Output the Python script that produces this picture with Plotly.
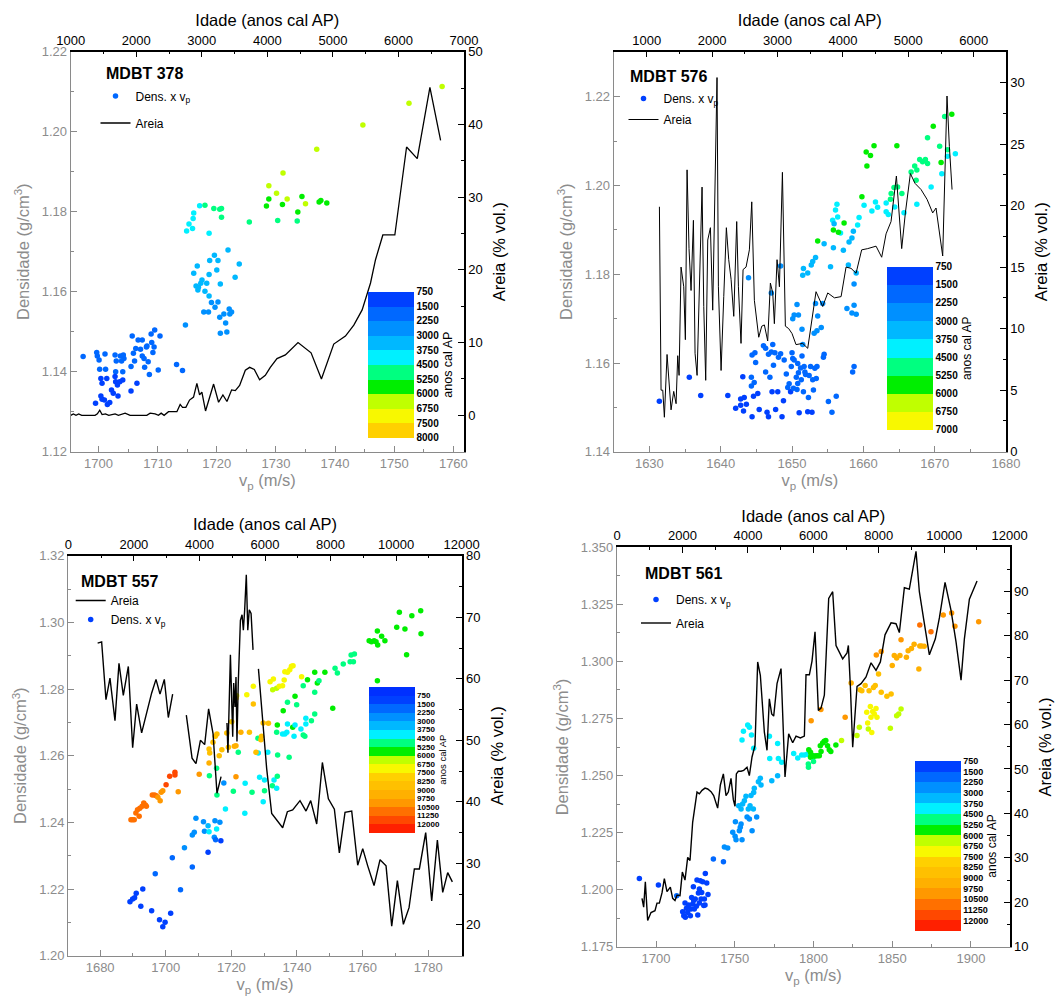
import numpy as np
import plotly.graph_objects as go

W, H = 1062, 998
FONT = 'Arial, "Liberation Sans", sans-serif'
TXT_GRAY = '#8c8c8c'
AX_GRAY = '#8a8a8a'

# ---------------- colour bands (lower bound of band -> colour) ----------------
BAND_COLORS = {0: '#0030ff', 750: '#0040ff', 1500: '#0068ff', 2250: '#0090ff', 3000: '#00b8ff',
               3750: '#00f0ff', 4500: '#00ff80', 5250: '#00ee00', 6000: '#c0ff00', 6750: '#f8f800',
               7500: '#ffd000', 8250: '#ffc000', 9000: '#ffb000', 9750: '#ff9800', 10500: '#ff7000',
               11250: '#ff4800', 12000: '#ff2000'}

# ======================= MDBT 378 =======================
p1_vp = [1697.4, 1699.7, 1699.8, 1700.1, 1700.2, 1700.4, 1700.6, 1700.4, 1700.6, 1699.5,
         1701.0, 1701.2, 1701.1, 1701.4, 1701.5, 1701.9, 1702.2, 1702.5, 1702.8, 1702.9,
         1702.8, 1702.9, 1703.2, 1703.3, 1703.0, 1703.7, 1703.6, 1703.9, 1704.1, 1704.2,
         1704.3, 1704.1, 1705.5, 1705.5, 1705.7, 1705.9, 1706.1, 1706.3, 1706.5, 1706.7,
         1707.1, 1707.4, 1707.4, 1707.7, 1707.8, 1708.1, 1708.4, 1708.6, 1708.2, 1708.9,
         1709.0, 1709.2, 1709.4, 1709.5, 1710.1, 1710.4, 1713.2, 1714.2, 1714.7,
         1714.9, 1715.3, 1715.9, 1716.0, 1716.1, 1717.1, 1718.0, 1718.7, 1716.1, 1716.7,
         1716.5, 1716.9, 1717.3, 1717.5, 1716.8, 1717.8, 1718.0, 1718.3, 1718.6, 1718.7,
         1718.7, 1719.1, 1718.8, 1719.6, 1719.7, 1720.0, 1720.2, 1720.2, 1720.5, 1720.6,
         1720.6, 1721.2, 1721.5, 1721.7, 1721.9, 1722.1, 1722.2, 1722.5, 1723.1, 1723.8,
         1719.5, 1720.5, 1720.8, 1720.8, 1725.5, 1728.4, 1728.8, 1728.8, 1730.1, 1730.3,
         1731.1, 1731.2, 1731.9, 1733.6, 1733.7, 1734.4, 1735.0, 1736.9, 1737.3, 1737.6,
         1738.6, 1744.7, 1752.5, 1758.1]
p1_dens = [1.1438, 1.1448, 1.1439, 1.1429, 1.1406, 1.1383, 1.1371, 1.1339, 1.1331, 1.1321,
           1.1329, 1.1406, 1.1444, 1.1383, 1.1318, 1.1323, 1.1354, 1.1346, 1.1442, 1.1400,
           1.1388, 1.1375, 1.1367, 1.1339, 1.1427, 1.1439, 1.1375, 1.1427, 1.1379, 1.1442,
           1.1433, 1.1400, 1.1413, 1.1352, 1.1489, 1.1446, 1.1427, 1.1458, 1.1371, 1.1479,
           1.1456, 1.1479, 1.1439, 1.1433, 1.1411, 1.1462, 1.1425, 1.1393, 1.1464, 1.1494,
           1.1473, 1.1448, 1.1462, 1.1504, 1.1404, 1.1489, 1.1418, 1.1403, 1.1517,
           1.1752, 1.1769, 1.1758, 1.1783, 1.1797, 1.1815, 1.1816, 1.1746, 1.1646, 1.1664,
           1.1614, 1.1611, 1.1621, 1.1629, 1.1604, 1.1549, 1.1601, 1.1621, 1.1549, 1.1643,
           1.1589, 1.1573, 1.1678, 1.1691, 1.1561, 1.1654, 1.1678, 1.1574, 1.1536, 1.1496,
           1.1619, 1.1544, 1.1522, 1.1499, 1.1704, 1.1557, 1.1544, 1.1549, 1.1636, 1.1669,
           1.1808, 1.1806, 1.1808, 1.1786, 1.1774, 1.1814, 1.1832, 1.1865, 1.1846, 1.1778,
           1.1818, 1.1897, 1.1832, 1.1777, 1.1799, 1.1838, 1.1820, 1.1956, 1.1824, 1.1828,
           1.1822, 1.2017, 1.2071, 1.2113]
p1_age = [2100, 1900, 1800, 1700, 1600, 1500, 1500, 1400, 1400, 1300,
          1300, 1600, 1800, 1500, 1200, 1300, 1400, 1400, 1800, 1600,
          1500, 1500, 1500, 1400, 1700, 1800, 1500, 1700, 1500, 1800,
          1700, 1600, 1600, 1400, 2000, 1800, 1700, 1900, 1500, 1900,
          1800, 1900, 1700, 1700, 1600, 1800, 1700, 1600, 1800, 2000,
          1900, 1800, 1800, 2000, 1600, 2000, 2200, 2200, 2500,
          3900, 3900, 3900, 4000, 4000, 4200, 4600, 3900, 3300, 3300,
          3200, 3200, 3200, 3300, 3200, 2900, 3200, 3300, 2900, 3300,
          3100, 3000, 3400, 3400, 3000, 3300, 3400, 3000, 2900, 2700,
          3200, 2900, 2800, 2700, 3500, 3000, 3000, 3000, 3600, 3600,
          4800, 4900, 4900, 4900, 5000, 5600, 5700, 6200, 6200, 5000,
          5600, 6300, 6200, 5100, 5600, 5700, 6200, 6300, 5700, 5700,
          5600, 6400, 6500, 6600]
p1_line_age = [1000, 1041, 1081, 1122, 1168, 1372, 1407, 1443, 1479, 1530,
               1581, 1677, 1728, 1830, 1906, 2161, 2212, 2288, 2339, 2380,
               2425, 2492, 2620, 2670, 2706, 2757, 2813, 2874, 2925, 2966,
               3001, 3057, 3180, 3256, 3322, 3384, 3455, 3511, 3577, 3664,
               3730, 3801, 3882, 3969, 4045, 4147, 4275, 4468, 4667, 4825,
               5013, 5191, 5319, 5446, 5574, 5650, 5762, 5945, 6124, 6287,
               6480, 6643]
p1_line_areia = [0, 0.2, 0, 0.2, 0, 0, 0.2, 0.7, 0.1, 0.2,
                 0, 0.2, 0, 0.3, 0, 0, 0.3, 0.2, 0, 0.3,
                 0, 0.5, 0.5, 1.5, 1.1, 1.1, 2.1, 2.5, 4.4, 2.8,
                 3.2, 0.6, 4.3, 1.8, 2.8, 1.9, 3.5, 3.4, 4.1, 6.2,
                 6.6, 6.3, 4.9, 5.5, 6.6, 7.8, 8.3, 10.0, 8.6, 5.0,
                 9.8, 10.9, 12.4, 14.5, 18.2, 21.4, 24.8, 24.8, 36.9, 35.3,
                 45.1, 37.8]
p1_cbar_bounds = [750, 1500, 2250, 3000, 3750, 4500, 5250, 6000, 6750, 7500, 8000]
p1_cbar_labels = [750, 1500, 2250, 3000, 3750, 4500, 5250, 6000, 6750, 7500, 8000]

# ======================= MDBT 576 =======================
p2_vp = [1631.4, 1635.6, 1637.2, 1641.0, 1642.1, 1642.8, 1642.8, 1643.1, 1643.2, 1643.3,
         1643.6, 1644.3, 1644.4, 1644.3, 1644.4, 1644.6, 1644.7, 1644.8, 1644.9, 1645.2,
         1645.4, 1646.0, 1646.3, 1646.3, 1646.5, 1646.7, 1646.7, 1646.9, 1647.1, 1647.2,
         1647.3, 1647.4, 1647.7, 1647.6, 1648.0, 1648.1, 1648.4, 1648.6, 1648.8, 1648.9,
         1649.2, 1649.4, 1649.6, 1649.8, 1649.9, 1650.0, 1650.1, 1650.2, 1650.3, 1650.6,
         1650.7, 1650.8, 1650.8, 1650.9, 1651.0, 1651.2, 1651.3, 1651.4, 1651.6, 1651.7,
         1651.8, 1651.9, 1652.2, 1652.3, 1652.4, 1652.6, 1652.8, 1652.9, 1653.0, 1653.2,
         1653.4, 1653.5, 1654.4, 1654.5, 1655.1, 1655.6, 1656.2, 1658.5, 1658.7,
         1643.9, 1647.1, 1648.4, 1650.1, 1650.3, 1650.7, 1650.9, 1651.4, 1651.5, 1651.6,
         1651.5, 1652.2, 1652.7, 1652.9, 1653.1, 1653.3, 1653.3, 1653.5, 1653.6, 1654.1,
         1654.3, 1654.5, 1655.4, 1655.8, 1655.7, 1656.1, 1656.3, 1656.4, 1655.9, 1656.8,
         1657.2, 1657.7, 1657.9, 1658.0, 1658.4, 1658.4, 1658.6, 1658.7, 1658.7, 1659.0,
         1659.0, 1659.2,
         1653.6, 1655.8, 1656.5, 1657.3, 1659.8, 1659.4, 1660.1, 1660.4, 1660.5, 1661.0,
         1661.5, 1661.2, 1661.7, 1662.0, 1663.2, 1663.2, 1663.5, 1663.8, 1663.9, 1664.3,
         1664.4, 1664.7, 1664.8, 1665.4, 1665.7, 1666.7, 1667.2, 1667.4, 1667.5, 1667.5,
         1667.9, 1668.3, 1668.7, 1669.0, 1669.0, 1669.5, 1669.8, 1670.7, 1670.9, 1671.0,
         1671.4, 1671.8, 1671.8, 1672.4, 1672.9]
p2_dens = [1.1514, 1.1568, 1.1527, 1.1527, 1.1498, 1.1519, 1.1505, 1.1569, 1.1492, 1.1522,
           1.1507, 1.1548, 1.1479, 1.1568, 1.1618, 1.1525, 1.1556, 1.1623, 1.1601, 1.1531,
           1.1495, 1.1639, 1.1633, 1.1580, 1.1489, 1.1479, 1.1620, 1.1568, 1.1625, 1.1535,
           1.1642, 1.1595, 1.1495, 1.1623, 1.1535, 1.1613, 1.1621, 1.1479, 1.1515, 1.1607,
           1.1575, 1.1545, 1.1553, 1.1535, 1.1592, 1.1623, 1.1610, 1.1543, 1.1607, 1.1568,
           1.1540, 1.1554, 1.1599, 1.1578, 1.1488, 1.1589, 1.1562, 1.1616, 1.1535, 1.1592,
           1.1580, 1.1574, 1.1490, 1.1522, 1.1572, 1.1592, 1.1489, 1.1562, 1.1539, 1.1588,
           1.1565, 1.1592, 1.1613, 1.1620, 1.1513, 1.1489, 1.1525, 1.1580, 1.1592,
           1.1792, 1.1758, 1.1819, 1.1700, 1.1708, 1.1732, 1.1708, 1.1676, 1.1642, 1.1813,
           1.1798, 1.1803, 1.1821, 1.1829, 1.1667, 1.1734, 1.1838, 1.1673, 1.1706, 1.1680,
           1.1734, 1.1869, 1.1817, 1.1860, 1.1922, 1.1945, 1.1958, 1.1929, 1.1914, 1.1893,
           1.1854, 1.1723, 1.1821, 1.1873, 1.1713, 1.1882, 1.1897, 1.1778, 1.1730, 1.1803,
           1.1710, 1.1911,
           1.1875, 1.1900, 1.1895, 1.1916, 1.1975, 1.1928, 1.1956, 1.2076, 1.2044, 1.2068,
           1.2090, 1.1943, 1.1963, 1.1951, 1.1961, 1.1941, 1.1935, 1.1969, 1.1982, 1.1996,
           1.1952, 1.2090, 1.1997, 1.1982, 1.1939, 1.2031, 1.2044, 1.2012, 1.2035, 1.1958,
           1.2059, 1.2054, 1.2059, 1.2050, 1.2108, 1.1997, 1.2134, 1.2089, 1.2052, 1.2027,
           1.2156, 1.2081, 1.2066, 1.2161, 1.2072]
p2_age = [1000, 1100, 1200, 1300, 1400, 1400, 1400, 1500, 1400, 1500,
          1500, 1600, 1400, 1600, 1700, 1500, 1600, 1700, 1700, 1500,
          1400, 1800, 1800, 1600, 1400, 1400, 1700, 1600, 1700, 1500,
          1800, 1700, 1400, 1700, 1500, 1700, 1700, 1400, 1500, 1700,
          1600, 1600, 1600, 1500, 1700, 1800, 1700, 1600, 1700, 1600,
          1600, 1600, 1700, 1700, 1500, 1700, 1600, 1800, 1600, 1700,
          1700, 1700, 1500, 1600, 1700, 1700, 1500, 1700, 1600, 1800,
          1700, 1800, 1900, 1900, 1700, 1600, 1800, 2000, 2000,
          2800, 2700, 2900, 2800, 2800, 2900, 2800, 2600, 2500, 3200,
          3100, 3200, 3300, 3300, 2700, 2900, 3400, 2700, 2800, 2700,
          2900, 3500, 3200, 3400, 3800, 3900, 3900, 3800, 3700, 3800,
          3300, 2900, 3200, 3500, 2900, 3600, 3600, 3000, 2900, 3100,
          2900, 3800,
          5600, 5600, 5600, 5600, 5600, 3900, 4000, 5700, 5700, 5700,
          5700, 4000, 4000, 4000, 4100, 4100, 4100, 4800, 4800, 4900,
          4200, 5700, 4900, 4900, 4200, 4900, 5000, 4900, 5000, 4200,
          5000, 5000, 5000, 5000, 5100, 4300, 5700, 5100, 5600, 4300,
          5100, 5100, 4300, 5700, 4300]
p2_line_age = [1194, 1219, 1245, 1270, 1311, 1372, 1413, 1449, 1474, 1495,
               1525, 1566, 1591, 1617, 1647, 1678, 1714, 1739, 1770, 1805,
               1846, 1872, 1902, 1933, 1974, 2009, 2075, 2096, 2137, 2178,
               2218, 2254, 2290, 2331, 2376, 2402, 2442, 2473, 2519, 2570,
               2606, 2646, 2713, 2759, 2799, 2850, 2891, 2927, 2952, 2993,
               3029, 3075, 3120, 3171, 3222, 3283, 3385, 3462, 3528, 3589,
               3691, 3768, 3870, 3972, 4048, 4124, 4201, 4287, 4379, 4507,
               4593, 4660, 4736, 4818, 4899, 4955, 5032, 5103, 5195, 5287,
               5373, 5424, 5526, 5592, 5628, 5669]
p2_line_areia = [19.9, 5.0, 5.0, 2.8, 7.9, 3.4, 4.9, 3.9, 7.8, 6.2,
                 15.0, 13.4, 9.1, 22.9, 16.5, 13.1, 18.8, 8.0, 6.2, 12.9,
                 21.5, 11.8, 5.8, 17.2, 18.2, 11.5, 30.4, 13.4, 6.6, 12.6,
                 18.2, 15.6, 14.0, 11.0, 18.7, 13.4, 8.8, 14.8, 15.0, 16.4,
                 20.3, 12.3, 9.3, 10.2, 10.3, 9.0, 13.7, 12.9, 10.4, 15.6,
                 13.4, 22.7, 10.2, 10.0, 9.6, 8.7, 8.8, 8.4, 11.0, 13.0,
                 11.8, 12.9, 12.5, 12.6, 15.0, 14.9, 14.5, 16.4, 16.5, 16.7,
                 15.8, 17.7, 18.7, 22.4, 16.5, 19.4, 22.6, 21.8, 21.3, 20.5,
                 19.4, 19.8, 15.9, 28.9, 24.8, 21.3]
p2_cbar_bounds = [750, 1500, 2250, 3000, 3750, 4500, 5250, 6000, 6750, 7000]
p2_cbar_labels = [750, 1500, 2250, 3000, 3750, 4500, 5250, 6000, 6750, 7000]

# ======================= MDBT 557 =======================
p3_vp = [1689.1, 1689.9, 1690.5, 1691.0, 1692.4, 1693.0, 1695.7, 1696.8, 1698.1, 1699.1,
         1699.8, 1701.5, 1702.0, 1704.5, 1705.7, 1708.1, 1708.1, 1709.2, 1708.7, 1711.5,
         1711.8, 1712.9, 1712.9, 1713.2, 1714.8, 1715.0, 1715.2, 1715.5, 1716.5, 1716.8,
         1713.3, 1715.5, 1715.6, 1717.7, 1718.2, 1720.6, 1722.1, 1724.2, 1724.1, 1726.3,
         1728.1, 1728.2, 1728.6, 1729.7, 1730.1, 1730.1, 1731.1, 1732.5, 1733.0, 1733.8,
         1734.0, 1734.1, 1733.8, 1734.0, 1735.6, 1736.3, 1736.9, 1737.1, 1737.6, 1735.8,
         1737.1, 1738.7, 1739.1, 1739.4, 1739.4, 1739.9, 1741.2, 1741.9, 1742.4, 1742.7,
         1742.7, 1741.9, 1743.2, 1744.4, 1745.4, 1745.4, 1745.4, 1746.2, 1746.7, 1748.5,
         1750.9, 1751.6, 1752.3, 1754.1, 1756.2, 1756.5, 1757.2, 1757.5, 1762.0, 1762.7,
         1763.5, 1764.1, 1764.6, 1764.5, 1764.5, 1765.8, 1766.8, 1770.4, 1771.2, 1772.9,
         1773.4, 1775.0, 1777.7, 1777.8,
         1721.6, 1724.7, 1726.7, 1731.8, 1732.8, 1732.6, 1733.8, 1734.6, 1735.6, 1736.1,
         1736.3, 1737.1, 1737.8, 1738.3, 1738.8, 1741.4,
         1726.7, 1729.7, 1731.3, 1729.2, 1729.0, 1727.5, 1725.5, 1722.9, 1720.1, 1721.4,
         1721.4, 1720.9, 1719.1, 1718.6, 1717.1, 1716.3, 1715.1, 1715.6, 1714.4, 1713.2,
         1713.4, 1713.2, 1710.2, 1721.4,
         1689.4, 1689.9, 1690.4, 1690.9, 1691.4, 1691.9, 1692.1, 1692.8, 1693.3, 1693.8,
         1694.1, 1695.9, 1696.6, 1697.1, 1697.6, 1698.3, 1698.6, 1699.1, 1700.1, 1701.2,
         1702.8, 1702.8, 1703.8]
p3_dens = [1.2162, 1.2170, 1.2174, 1.2187, 1.2148, 1.2200, 1.2135, 1.2246, 1.2108, 1.2087,
           1.2100, 1.2127, 1.2294, 1.2198, 1.2324, 1.2266, 1.2362, 1.2412, 1.2370, 1.2402,
           1.2373, 1.2390, 1.2310, 1.2372, 1.2355, 1.2405, 1.2348, 1.2380, 1.2400, 1.2345,
           1.2540, 1.2562, 1.2482, 1.2518, 1.2440, 1.2493, 1.2610, 1.2517, 1.2427, 1.2490,
           1.2652, 1.2608, 1.2535, 1.2462, 1.2527, 1.2495, 1.2610, 1.2510, 1.2527, 1.2502,
           1.2538, 1.2602, 1.2670, 1.2692, 1.2665, 1.2665, 1.2670, 1.2695, 1.2595, 1.2735,
           1.2760, 1.2685, 1.2658, 1.2692, 1.2778, 1.2753, 1.2680, 1.2662, 1.2658, 1.2695,
           1.2712, 1.2810, 1.2828, 1.2705, 1.2725, 1.2790, 1.2850, 1.2818, 1.2825, 1.2850,
           1.2742, 1.2862, 1.2848, 1.2875, 1.2882, 1.2902, 1.2882, 1.2905, 1.2945, 1.2942,
           1.2945, 1.2942, 1.2932, 1.2974, 1.2825, 1.2958, 1.2945, 1.2985, 1.3030, 1.2980,
           1.2903, 1.3020, 1.3035, 1.2966,
           1.2780, 1.2783, 1.2808, 1.2822, 1.2830, 1.2798, 1.2802, 1.2808, 1.2810, 1.2827,
           1.2852, 1.2850, 1.2858, 1.2868, 1.2870, 1.2837,
           1.2755, 1.2698, 1.2697, 1.2658, 1.2648, 1.2610, 1.2670, 1.2670, 1.2702, 1.2772,
           1.2630, 1.2628, 1.2625, 1.2668, 1.2618, 1.2600, 1.2658, 1.2665, 1.2640, 1.2620,
           1.2608, 1.2578, 1.2544, 1.2537,
           1.2408, 1.2408, 1.2408, 1.2428, 1.2438, 1.2418, 1.2442, 1.2448, 1.2458, 1.2452,
           1.2448, 1.2482, 1.2482, 1.2480, 1.2475, 1.2465, 1.2490, 1.2495, 1.2513, 1.2538,
           1.2542, 1.2550, 1.2492]
p3_age = [1200, 1200, 1200, 1300, 1100, 1300, 1100, 1900, 1000, 1000,
          1000, 1100, 2000, 1600, 2300, 1600, 2700, 2400, 2700, 2900,
          2900, 3300, 1400, 4000, 2400, 3000, 1800, 4000, 3000, 1500,
          4900, 4900, 4900, 2300, 4000, 4900, 4900, 4000, 4000, 4900,
          4900, 4000, 4000, 4000, 4000, 4900, 4000, 4900, 4000, 4000,
          4900, 4900, 4900, 5600, 4000, 4000, 4000, 4000, 4900, 5600,
          4900, 5600, 4000, 4000, 5600, 4900, 4000, 4900, 4900, 4000,
          4000, 4900, 5600, 4900, 4900, 4900, 5600, 5600, 4900, 5600,
          5600, 4900, 4900, 4900, 4900, 4900, 4900, 4900, 5600, 5600,
          5600, 5600, 5600, 5600, 5600, 5600, 5600, 5600, 5600, 5600,
          5600, 5600, 5600, 5600,
          7000, 7000, 7000, 7000, 7000, 6400, 6400, 7000, 7000, 7000,
          7000, 7000, 7000, 7000, 7000, 7000,
          8500, 8500, 8500, 8600, 8600, 9000, 9000, 9300, 8000, 7800,
          9300, 9300, 8800, 8600, 8600, 9000, 8600, 8600, 8600, 8300,
          8300, 9600, 9800, 9800,
          10800, 10800, 10800, 10800, 10800, 10800, 10800, 10800, 10800, 10800,
          10800, 10800, 10800, 10600, 10000, 10000, 10000, 10000, 11400, 11400,
          11600, 11600, 9900]
p3_line_age = [895, 1017, 1149, 1271, 1424, 1546, 1678, 1831, 1963, 2085,
               2237, 2390, 2543, 2675, 2797, 2929, 3051, 3183, None,
               3600, 3775, 3895, 4030, 4160, 4280, 4415, 4535, 4660, None,
               4840, 4870, 4945, 5015, 5045, 5085, 5115, 5145, 5185, 5250,
               5300, 5340, 5380, 5430, 5475, 5520, 5575, 5635, None,
               5800, 5899, 6051, 6204, 6356, 6539, 6682, 6844, 7068, 7251,
               7394, 7577, 7750, 7933, 8116, 8268, 8441, 8645, 8828, 8981,
               9133, 9326, 9509, 9692, 9865, 10038, 10221, 10394, 10556, 10709,
               10902, 11085, 11258, 11421, 11573, 11715]
p3_line_areia = [65.8, 66.0, 56.6, 60.1, 53.2, 62.5, 57.3, 62.0, 48.8, 55.9,
                 51.2, 54.5, 57.7, 59.9, 57.5, 59.9, 53.7, 57.5, None,
                 54.1, 47.1, 46.2, 50.0, 49.3, 55.1, 51.1, 41.4, 44.1, None,
                 52.8, 48.0, 63.9, 50.6, 59.3, 55.4, 60.3, 49.8, 59.3, 69.5,
                 70.4, 67.9, 71.2, 76.9, 67.9, 71.2, 70.6, 64.7, None,
                 61.6, 55.7, 45.4, 38.1, 37.0, 35.8, 38.4, 38.7, 40.2, 38.5,
                 40.2, 36.4, 46.4, 40.5, 38.8, 31.7, 38.3, 38.5, 29.7, 32.4,
                 29.6, 26.4, 30.6, 29.6, 19.8, 27.2, 20.1, 22.8, 29.1, 29.1,
                 35.0, 23.9, 33.8, 25.3, 28.5, 27.0]
p3_cbar_bounds = [0, 750, 1500, 2250, 3000, 3750, 4500, 5250, 6000, 6750, 7500, 8250,
                  9000, 9750, 10500, 11250, 12000, 12750]
p3_cbar_labels = [750, 1500, 2250, 3000, 3750, 4500, 5250, 6000, 6750, 7500, 8250,
                  9000, 9750, 10500, 11250, 12000]

# ======================= MDBT 561 =======================
p4_vp = [1689.4, 1701.5, 1713.1, 1716.9, 1717.6, 1718.4, 1718.6, 1719.3, 1720.1, 1720.7,
         1721.8, 1722.2, 1722.6, 1723.3, 1723.7, 1723.9, 1724.3, 1724.9, 1725.6, 1726.0,
         1726.5, 1726.9, 1727.5, 1727.5, 1728.1, 1728.6, 1729.0, 1729.6, 1730.3, 1730.7,
         1731.1, 1731.3, 1732.2, 1733.0,
         1736.4, 1742.8, 1743.4, 1745.5, 1748.7, 1750.4, 1750.2, 1750.8, 1752.9, 1753.5,
         1754.0, 1754.6, 1752.5, 1754.0, 1755.0, 1756.1, 1757.1, 1757.8, 1758.6, 1759.3,
         1759.7, 1760.3, 1761.0, 1761.8, 1762.0, 1762.4, 1763.9, 1765.0, 1766.2, 1766.7,
         1754.6, 1755.5, 1758.2, 1759.3, 1760.6, 1762.0, 1772.0, 1772.2, 1773.5, 1777.2,
         1777.7, 1777.2, 1779.8, 1787.4, 1790.0, 1792.5, 1794.2, 1796.0,
         1797.0, 1798.1, 1798.1, 1798.5, 1799.6, 1800.0, 1796.7, 1796.8, 1800.5, 1801.6,
         1802.6, 1803.7, 1804.3, 1804.8, 1805.8, 1806.8, 1807.8, 1808.9, 1810.0, 1811.0,
         1814.2, 1817.8,
         1827.6, 1829.1, 1833.8, 1834.4, 1834.8, 1836.1, 1836.5, 1837.0, 1837.6, 1838.6,
         1839.7, 1840.3, 1848.8, 1852.8, 1854.1, 1855.6,
         1798.5, 1804.7, 1820.1, 1823.9, 1829.6, 1830.7, 1832.8, 1835.3, 1838.1, 1839.2,
         1841.3, 1843.0, 1846.6, 1849.3, 1839.9, 1843.0, 1850.0, 1851.3, 1852.8, 1855.6,
         1854.9, 1859.0, 1860.1, 1862.2, 1863.9, 1866.9, 1867.5, 1867.5, 1868.6, 1870.3,
         1874.6, 1882.4, 1887.7, 1889.8, 1904.9]
p4_dens = [1.2049, 1.2020, 1.1973, 1.1903, 1.1886, 1.1941, 1.1879, 1.1918, 1.1900, 1.1933,
           1.1886, 1.1915, 1.1966, 1.1937, 1.2013, 1.1952, 1.1915, 1.1959, 1.1927, 1.2042,
           1.1889, 1.1985, 1.2003, 1.1941, 1.2039, 1.1959, 1.1988, 1.2035, 1.1930, 1.1959,
           1.1933, 1.2071, 1.2029, 1.1979,
           1.2134, 1.2122, 1.2187, 1.2182, 1.2251, 1.2298, 1.2234, 1.2219, 1.2258, 1.2273,
           1.2288, 1.2219, 1.2368, 1.2353, 1.2375, 1.2390, 1.2409, 1.2318, 1.2353, 1.2310,
           1.2368, 1.2412, 1.2258, 1.2353, 1.2426, 1.2444, 1.2318, 1.2473, 1.2488, 1.2459,
           1.2656, 1.2694, 1.2721, 1.2711, 1.2678, 1.2619, 1.2672, 1.2575, 1.2477, 1.2640,
           1.2575, 1.2499, 1.2558, 1.2597, 1.2577, 1.2590, 1.2590, 1.2593,
           1.2613, 1.2580, 1.2602, 1.2590, 1.2587, 1.2561, 1.2550, 1.2536, 1.2584, 1.2587,
           1.2587, 1.2587, 1.2631, 1.2605, 1.2643, 1.2650, 1.2653, 1.2631, 1.2613, 1.2605,
           1.2634, 1.2653,
           1.2675, 1.2711, 1.2777, 1.2730, 1.2704, 1.2803, 1.2755, 1.2689, 1.2780, 1.2770,
           1.2794, 1.2755, 1.2707, 1.2762, 1.2770, 1.2792,
           1.2740, 1.2789, 1.2755, 1.2905, 1.2876, 1.2872, 1.2894, 1.2872, 1.2886, 1.2894,
           1.2945, 1.2865, 1.2847, 1.2857, 1.3028, 1.3043, 1.2982, 1.3026, 1.3015, 1.3095,
           1.3026, 1.3018, 1.3047, 1.3057, 1.3075, 1.2967, 1.3160, 1.3068, 1.3068, 1.3066,
           1.3130, 1.3203, 1.3212, 1.3154, 1.3174]
p4_age = [1200, 1500, 2000, 1000, 1000, 1100, 1000, 1100, 1000, 1100,
          1000, 1100, 1200, 1100, 1300, 1200, 1100, 1200, 1100, 1300,
          1000, 1200, 1300, 1100, 1300, 1200, 1200, 1300, 1100, 1200,
          1100, 1400, 1300, 1200,
          2100, 2200, 2300, 2300, 2500, 2600, 2500, 2400, 2600, 2600,
          2700, 2500, 3200, 3200, 3300, 3300, 3400, 2800, 3100, 2800,
          3200, 3400, 2700, 3100, 3400, 3500, 2800, 3500, 3600, 3500,
          4000, 4000, 4100, 4100, 4000, 3900, 4100, 4000, 3600, 4100,
          4000, 3700, 4000, 4100, 4100, 4200, 4200, 4300,
          5500, 5500, 5500, 5500, 5500, 4900, 4900, 4900, 5600, 5600,
          5600, 5600, 5600, 5600, 5600, 5600, 5700, 5700, 5700, 5700,
          5800, 6200,
          6300, 6400, 7000, 7000, 6500, 7100, 7100, 7000, 7100, 7100,
          7200, 7100, 6500, 6500, 6500, 6600,
          9800, 9800, 9800, 9200, 8400, 8400, 8400, 8400, 8500, 8500,
          8600, 8600, 8700, 8700, 10200, 9900, 9300, 9300, 9400, 10000,
          9400, 9400, 9500, 9500, 9600, 9600, 10800, 9700, 9700, 9700,
          10800, 10000, 10000, 10000, 10000]
p4_line_age = [764, 815, 866, 937, 1039, 1161, 1222, 1294, 1375, 1447,
               1528, 1630, 1701, 1772, 1834, 1925, 1997, 2078, 2160, 2231,
               2312, 2384, 2445, 2516, 2598, 2689, 2771, 2873, 2954, 3076,
               3158, 3250, 3331, 3402, 3484, 3555, 3606, 3647, 3708, 3790,
               3871, 3973, 4044, 4126, 4217, 4299, 4380, 4503, 4584, 4655,
               4727, 4788, 4890, 5012, 5134, 5246, 5369, 5471, 5603, 5725,
               5776, 5878, 5959, 6051, 6153, 6234, 6336, 6469, 6591, 6693,
               6764, 6897, 7029, 7070, 7131, 7202, 7335, 7457, 7610, 7763,
               7915, 8048, 8190, 8374, 8526, 8628, 8781, 8933, 9137, 9239,
               9372, 9545, 9728, 9851, 10024, 10207, 10360, 10513, 10615, 10768,
               11002]
p4_line_areia = [20.9, 18.9, 24.6, 15.9, 17.7, 18.1, 19.8, 19.8, 22.1, 25.3,
                 22.4, 23.4, 20.9, 20.4, 21.6, 21.5, 26.8, 25.0, 30.1, 29.4,
                 38.0, 42.4, 44.8, 44.4, 45.2, 45.7, 45.5, 44.9, 44.0, 41.2,
                 46.4, 48.9, 44.0, 44.8, 47.9, 43.1, 41.6, 48.9, 49.5, 49.5,
                 49.7, 50.4, 48.5, 52.7, 55.3, 74.1, 71.1, 58.3, 54.2, 65.8,
                 62.4, 61.9, 69.2, 72.6, 48.2, 57.9, 55.9, 57.4, 57.0, 57.4,
                 71.2, 71.2, 74.3, 80.9, 63.2, 63.7, 66.6, 88.4, 89.9, 77.8,
                 76.7, 74.8, 76.1, 77.8, 68.7, 54.9, 68.6, 69.2, 70.7, 73.9,
                 72.2, 74.1, 80.2, 82.9, 82.7, 80.7, 90.8, 90.5, 99.0, 89.9,
                 83.7, 75.7, 79.3, 84.0, 92.0, 85.7, 78.6, 70.0, 79.3, 88.2,
                 92.3]
p4_cbar_bounds = [750, 1500, 2250, 3000, 3750, 4500, 5250, 6000, 6750, 7500, 8250,
                  9000, 9750, 10500, 11250, 12000, 12750]
p4_cbar_labels = [750, 1500, 2250, 3000, 3750, 4500, 5250, 6000, 6750, 7500, 8250,
                  9000, 9750, 10500, 11250, 12000]

for a, b, c in [(p1_vp, p1_dens, p1_age), (p2_vp, p2_dens, p2_age),
                (p3_vp, p3_dens, p3_age), (p4_vp, p4_dens, p4_age)]:
    assert len(a) == len(b) == len(c), (len(a), len(b), len(c))
for a, b in [(p1_line_age, p1_line_areia), (p2_line_age, p2_line_areia),
             (p3_line_age, p3_line_areia), (p4_line_age, p4_line_areia)]:
    assert len(a) == len(b), (len(a), len(b))

# ---------------- layout geometry (pixels) ----------------
panels = [
    dict(name='MDBT 378', vp=p1_vp, dens=p1_dens, age=p1_age, lage=p1_line_age, lar=p1_line_areia,
         bounds=p1_cbar_bounds, labels=p1_cbar_labels,
         box=(70.7, 464.0, 51.7, 451.7), xr=[1695.3, 1761.8], xd=10, xm=5,
         tr=[1000, 7000], td=1000, tm=500, yr=[1.12, 1.22], yd=0.02, ym=0.01, yf='.2f',
         rr=[-5, 50], rd=10, rm=5, lw=1.3,
         cb=(367.7, 291.7, 146, 45.7), cbfont=12.5, cbtick=10,
         lab=(104, 74), leg=(95.5, 81.5), gap=8, order=['dens', 'line']),
    dict(name='MDBT 576', vp=p2_vp, dens=p2_dens, age=p2_age, lage=p2_line_age, lar=p2_line_areia,
         bounds=p2_cbar_bounds, labels=p2_cbar_labels,
         box=(613.7, 1006.0, 51.7, 451.7), xr=[1625, 1680], xd=10, xm=5,
         tr=[495, 6494], td=1000, tm=500, yr=[1.14, 1.2302], yd=0.02, ym=0.01, yf='.2f',
         rr=[0, 32.5], rd=5, rm=2.5, lw=1.0,
         cb=(887.0, 266.7, 163.3, 45.7), cbfont=12, cbtick=10,
         lab=(627.7, 76.7), leg=(623.5, 84.0), gap=2, order=['dens', 'line']),
    dict(name='MDBT 557', vp=p3_vp, dens=p3_dens, age=p3_age, lage=p3_line_age, lar=p3_line_areia,
         bounds=p3_cbar_bounds, labels=p3_cbar_labels,
         box=(68.3, 461.7, 555.7, 955.7), xr=[1670.3, 1790.2], xd=20, xm=10,
         tr=[0, 12000], td=2000, tm=1000, yr=[1.20, 1.32], yd=0.02, ym=0.01, yf='.2f',
         rr=[15, 80], rd=10, rm=5, lw=1.4,
         cb=(369.3, 686.7, 145.6, 45.7), cbfont=9.5, cbtick=8,
         lab=(78.7, 581.3), leg=(70.7, 586.0), gap=0, order=['line', 'dens']),
    dict(name='MDBT 561', vp=p4_vp, dens=p4_dens, age=p4_age, lage=p4_line_age, lar=p4_line_areia,
         bounds=p4_cbar_bounds, labels=p4_cbar_labels,
         box=(617.0, 1009.7, 547.3, 946.7), xr=[1675.2, 1924.6], xd=50, xm=25,
         tr=[0, 12000], td=2000, tm=1000, yr=[1.175, 1.350], yd=0.025, ym=0.0125, yf='.3f',
         rr=[10, 99.9], rd=10, rm=5, lw=1.4,
         cb=(915.0, 761.0, 170, 45.7), cbfont=12, cbtick=9,
         lab=(642.7, 573.0), leg=(636.0, 585.0), gap=4.5, order=['dens', 'line']),
]

fig = go.Figure()
layout = dict(width=W, height=H, margin=dict(l=0, r=0, t=0, b=0, autoexpand=False),
              paper_bgcolor='white', plot_bgcolor='white', showlegend=True,
              font=dict(family=FONT, color='black'), annotations=[])

for i, p in enumerate(panels):
    xb, xt, yl, yr_ = 2 * i + 1, 2 * i + 2, 2 * i + 1, 2 * i + 2
    xbn = 'x' if xb == 1 else f'x{xb}'
    ybn = 'y' if yl == 1 else f'y{yl}'
    xtn, yrn = f'x{xt}', f'y{yr_}'
    legname = 'legend' if i == 0 else f'legend{i + 1}'

    # colour scale built from the band bounds (750 at top of the bar)
    bounds = p['bounds']
    n = len(bounds) - 1
    cols = [BAND_COLORS[b] for b in bounds[:-1]]
    cs = []
    for j in range(n):
        c = cols[n - 1 - j]
        cs.append([j / n, c])
        cs.append([(j + 1) / n, c])
    cval = -np.interp(np.array(p['age'], float), bounds, np.arange(n + 1))
    tickvals = [-bounds.index(v) for v in p['labels']]

    cbx, cbtop, cblen, cbth = p['cb']
    scat = go.Scatter(
        x=p['vp'], y=p['dens'], mode='markers', name='Dens. x v<sub>p</sub>',
        xaxis=xbn, yaxis=ybn, legend=legname, legendgroup=f'd{i}',
        legendrank=1 if p['order'][0] == 'dens' else 2,
        marker=dict(size=5.5, color=cval, colorscale=cs, cmin=-n, cmax=0, line=dict(width=0),
                    showscale=True,
                    colorbar=dict(x=cbx / W, xanchor='left', xref='paper',
                                  y=1 - cbtop / H, yanchor='top', yref='paper',
                                  len=cblen, lenmode='pixels', thickness=cbth, thicknessmode='pixels',
                                  xpad=0, ypad=0, outlinewidth=0, ticks='',
                                  tickvals=tickvals, ticktext=[str(v) for v in p['labels']],
                                  tickfont=dict(family=FONT, size=p['cbtick'], color='black', weight='bold'),
                                  title=dict(text='anos cal AP', side='right',
                                             font=dict(family=FONT, size=p['cbfont'], color='black')))))
    line = go.Scatter(
        x=p['lage'], y=p['lar'], mode='lines', name='Areia', connectgaps=False,
        xaxis=xtn, yaxis=yrn, legend=legname, legendgroup=f'l{i}',
        legendrank=1 if p['order'][0] == 'line' else 2,
        line=dict(color='black', width=p['lw']))
    fig.add_trace(scat)
    fig.add_trace(line)

    x0, x1, ytop, ybot = p['box']
    xdom = [x0 / W, x1 / W]
    ydom = [1 - ybot / H, 1 - ytop / H]
    tf_gray = dict(family=FONT, size=13, color=TXT_GRAY)
    tf_black = dict(family=FONT, size=13, color='black')
    ttl_gray = dict(family=FONT, size=16.5, color=TXT_GRAY)
    ttl_black = dict(family=FONT, size=16.5, color='black')
    common = dict(showgrid=False, zeroline=False, showline=True, ticks='inside', ticklen=6, tickwidth=1)

    layout['xaxis' if xb == 1 else f'xaxis{xb}'] = dict(
        domain=xdom, anchor=ybn, range=p['xr'], tick0=0, dtick=p['xd'], tickformat='d',
        linecolor=AX_GRAY, linewidth=1.2, tickcolor=AX_GRAY, tickfont=tf_gray,
        minor=dict(dtick=p['xm'], tick0=0, ticks='inside', ticklen=3, tickcolor=AX_GRAY, showgrid=False),
        title=dict(text='v<sub>p</sub> (m/s)', font=ttl_gray, standoff=3), **common)
    layout[f'xaxis{xt}'] = dict(
        overlaying=xbn, side='top', anchor=ybn, range=p['tr'], tick0=0, dtick=p['td'], tickformat='d',
        linecolor='black', linewidth=1.5, tickcolor='black', tickfont=tf_black,
        minor=dict(dtick=p['tm'], tick0=0, ticks='inside', ticklen=3, tickcolor='black', showgrid=False),
        title=dict(text='Idade (anos cal AP)', font=ttl_black, standoff=2), **common)
    layout['yaxis' if yl == 1 else f'yaxis{yl}'] = dict(
        domain=ydom, anchor=xbn, range=p['yr'], tick0=0, dtick=p['yd'], tickformat=p['yf'],
        linecolor=AX_GRAY, linewidth=1.2, tickcolor=AX_GRAY, tickfont=tf_gray,
        minor=dict(dtick=p['ym'], tick0=0, ticks='inside', ticklen=3, tickcolor=AX_GRAY, showgrid=False),
        title=dict(text='Densidade (g/cm<sup>3</sup>)', font=ttl_gray, standoff=7.5), **common)
    layout[f'yaxis{yr_}'] = dict(
        overlaying=ybn, side='right', anchor=xbn, range=p['rr'], tick0=0, dtick=p['rd'], tickformat='d',
        linecolor='black', linewidth=1.5, tickcolor='black', tickfont=tf_black,
        minor=dict(dtick=p['rm'], tick0=0, ticks='inside', ticklen=3, tickcolor='black', showgrid=False),
        title=dict(text='Areia (% vol.)', font=ttl_black, standoff=12), **common)

    lx, ly = p['leg']
    layout[legname] = dict(x=lx / W, y=1 - ly / H, xanchor='left', yanchor='top',
                           xref='paper', yref='paper', bgcolor='rgba(0,0,0,0)', borderwidth=0,
                           font=dict(family=FONT, size=12, color='black'),
                           traceorder='grouped', tracegroupgap=p['gap'], itemwidth=30)
    ax_, ay_ = p['lab']
    layout['annotations'].append(dict(
        text='<b>' + p['name'] + '</b>', x=ax_ / W, y=1 - ay_ / H, xref='paper', yref='paper',
        xanchor='left', yanchor='middle', showarrow=False,
        font=dict(family=FONT, size=16, color='black')))

fig.update_layout(**layout)
fig.write_html('out.html')
